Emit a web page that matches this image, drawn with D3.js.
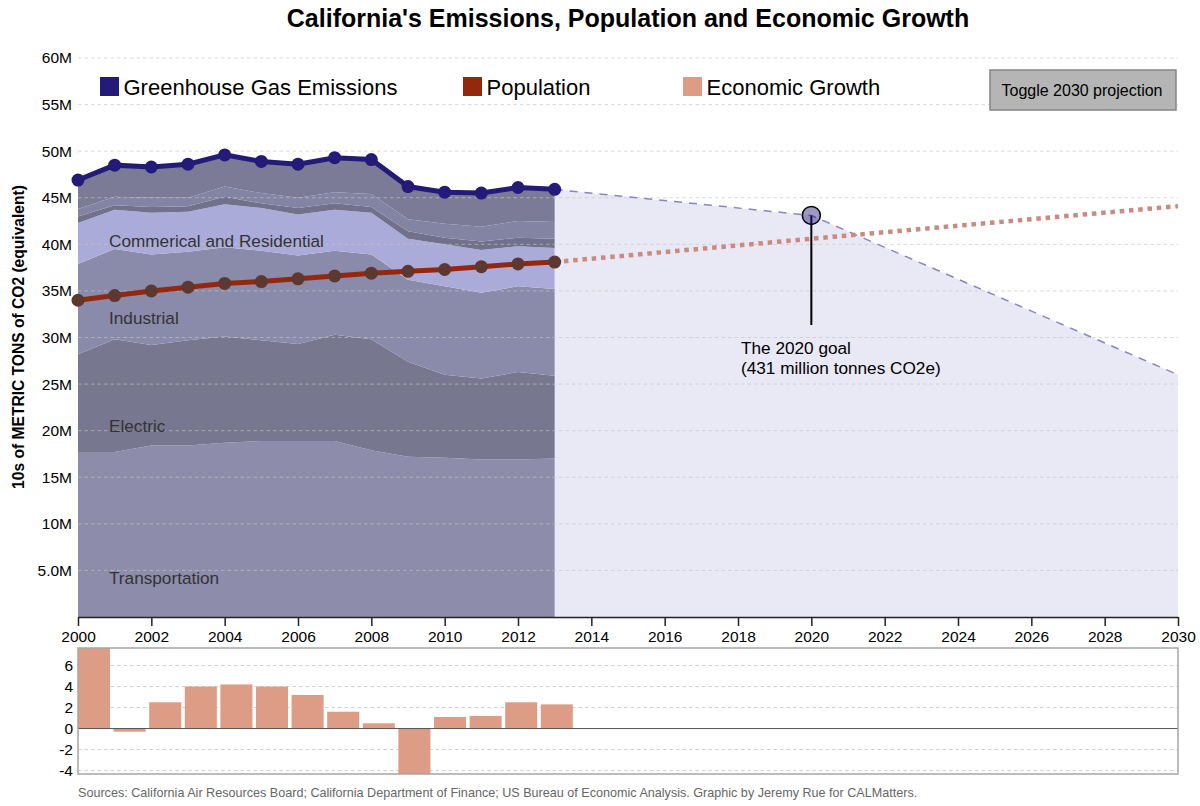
<!DOCTYPE html>
<html>
<head>
<meta charset="utf-8">
<title>California's Emissions, Population and Economic Growth</title>
<script src="https://cdn.jsdelivr.net/npm/d3@7"></script>
<style>
body { margin: 0; background: #fff; }
svg { display: block; }
text { font-family: "Liberation Sans", Arial, sans-serif; }
</style>
</head>
<body>
<svg id="chart"></svg>
<script>
var years = d3.range(2000, 2014);
var allYears = d3.range(2000, 2031);

// sector values (millions)
var transportation = [17.7, 17.7, 18.4, 18.4, 18.7, 18.9, 18.9, 18.9, 17.9, 17.2, 17.1, 16.9, 16.9, 17.0];
var electric = [10.5, 12.1, 10.8, 11.3, 11.4, 10.8, 10.4, 11.4, 11.9, 10.2, 8.9, 8.7, 9.4, 8.9];
var industrial = [9.7, 9.7, 9.7, 9.5, 9.6, 9.6, 9.5, 9.0, 9.1, 8.8, 9.5, 9.2, 9.2, 9.3];
var commercial = [4.4, 4.2, 4.5, 4.3, 4.6, 4.6, 4.4, 4.4, 4.5, 4.4, 4.5, 4.6, 4.3, 4.4];
var agriculture = [0.7, 0.5, 0.6, 0.6, 0.8, 0.5, 0.7, 0.7, 0.6, 0.8, 0.7, 0.9, 0.9, 1.0];
var recycling = [0.8, 0.9, 1.0, 0.9, 1.1, 1.1, 1.1, 1.2, 1.4, 1.3, 1.5, 1.6, 1.8, 1.8];
var other = [3.1, 3.4, 3.3, 3.6, 3.4, 3.4, 3.6, 3.7, 3.7, 3.5, 3.4, 3.6, 3.6, 3.5];

var emissions = [46.9, 48.5, 48.3, 48.6, 49.6, 48.9, 48.6, 49.3, 49.1, 46.2, 45.6, 45.5, 46.1, 45.9];
var population = [34.0, 34.5, 35.0, 35.4, 35.8, 36.0, 36.3, 36.6, 36.9, 37.1, 37.3, 37.6, 37.9, 38.1];
var growth = [8.0, -0.3, 2.5, 4.0, 4.2, 4.0, 3.2, 1.6, 0.5, -4.6, 1.1, 1.2, 2.5, 2.3];

var goalYears = [2013, 2020, 2030];
var goalValues = [45.9, 43.1, 26.0];
var popYears = [2013, 2020, 2030];
var popValues = [38.1, 40.6, 44.1];

var sectorNames = ["transportation", "electric", "industrial", "commercial", "agriculture", "recycling", "other"];
var sectorColors = ["#8d8dab", "#777790", "#8a8aaa", "#ababd9", "#71718b", "#8383a3", "#7b7b97"];
var sectorSeries = [transportation, electric, industrial, commercial, agriculture, recycling, other];

var sectorLabels = ["Transportation", "Electric", "Industrial", "Commerical and Residential"];
var labelValues = [3.5, 19.85, 31.4, 39.7];

var yTicks = d3.range(5, 65, 5);
var growthTicks = [-4, -2, 0, 2, 4, 6];
var legendNames = ["Greenhouse Gas Emissions", "Population", "Economic Growth"];
var legendColors = ["#231b77", "#93280f", "#dd9c85"];
var legendX = [100, 463, 683];

var width = 1200;
var height = 806;
var left = 78, right = 1178;

var svg = d3.select("#chart").attr("width", width).attr("height", height);

var x = d3.scaleLinear().domain([2000, 2030]).range([left, right]);
var y = d3.scaleLinear().domain([0, 60]).range([617, 58]);

svg.append("text")
  .attr("x", 628).attr("y", 27)
  .attr("text-anchor", "middle")
  .attr("font-size", 25).attr("font-weight", "bold")
  .text("California's Emissions, Population and Economic Growth");

// projection area under the goal line
var goalData = goalYears.map(function(d, i) { return { year: d, value: goalValues[i] }; });
var goalArea = d3.area()
  .x(function(d) { return x(d.year); })
  .y0(y(0))
  .y1(function(d) { return y(d.value); });
svg.append("path").datum(goalData).attr("d", goalArea).attr("fill", "#e9e8f5");

// stacked sectors
var table = years.map(function(year, i) {
  var row = { year: year };
  sectorNames.forEach(function(name, j) { row[name] = sectorSeries[j][i]; });
  return row;
});
var stack = d3.stack().keys(sectorNames);
var bandArea = d3.area()
  .x(function(d) { return x(d.data.year); })
  .y0(function(d) { return y(d[0]); })
  .y1(function(d) { return y(d[1]); });
svg.selectAll(".band")
  .data(stack(table))
  .enter().append("path")
  .attr("class", "band")
  .attr("d", bandArea)
  .attr("fill", function(d, i) { return sectorColors[i]; });

// grid sits on top of the areas
svg.selectAll(".grid")
  .data(yTicks)
  .enter().append("line")
  .attr("class", "grid")
  .attr("x1", left).attr("x2", right)
  .attr("y1", function(d) { return y(d); })
  .attr("y2", function(d) { return y(d); })
  .attr("stroke", "#c4c4c4").attr("stroke-opacity", 0.65)
  .attr("stroke-dasharray", "3.5,3");

// sector labels
svg.selectAll(".sector-label")
  .data(sectorLabels)
  .enter().append("text")
  .attr("class", "sector-label")
  .attr("x", 109)
  .attr("y", function(d, i) { return y(labelValues[i]); })
  .attr("font-size", 17.2).attr("fill", "#333")
  .text(function(d) { return d; });

// y axis labels only
var yAxis = d3.axisLeft(y).tickValues(yTicks).tickSize(0).tickPadding(6)
  .tickFormat(function(d) { return d3.format(".2s")(d * 1e6); });
var yG = svg.append("g").attr("transform", "translate(" + left + ",0)").call(yAxis);
yG.select(".domain").remove();
yG.selectAll("text").attr("font-size", 15.5).attr("font-family", null).attr("fill", "#000");

svg.append("text")
  .attr("transform", "translate(24,337) rotate(-90)")
  .attr("text-anchor", "middle")
  .attr("font-size", 15.6).attr("font-weight", "bold")
  .text("10s of METRIC TONS of CO2 (equivalent)");

// x axis
var xAxis = d3.axisBottom(x).tickValues(d3.range(2000, 2031, 2)).tickSize(9).tickSizeOuter(0).tickPadding(5)
  .tickFormat(d3.format("d"));
var xG = svg.append("g").attr("transform", "translate(0,617)").call(xAxis);
xG.selectAll("path, line").attr("stroke", "#222").attr("stroke-width", 1.5);
xG.selectAll("text").attr("font-size", 15.5).attr("font-family", null).attr("fill", "#000");

// projections
var line = d3.line()
  .x(function(d) { return x(d.year); })
  .y(function(d) { return y(d.value); });
svg.append("path").datum(goalData).attr("d", line)
  .attr("fill", "none").attr("stroke", "#8a86bb").attr("stroke-width", 1.5)
  .attr("stroke-dasharray", "8,7");
var popProjection = popYears.map(function(d, i) { return { year: d, value: popValues[i] }; });
svg.append("path").datum(popProjection).attr("d", line)
  .attr("fill", "none").attr("stroke", "#c98b7e").attr("stroke-width", 4.5)
  .attr("stroke-dasharray", "4.5,4.8");

// emissions line
var emissionsData = years.map(function(d, i) { return { year: d, value: emissions[i] }; });
svg.append("path").datum(emissionsData).attr("d", line)
  .attr("fill", "none").attr("stroke", "#231b77").attr("stroke-width", 5);
svg.selectAll(".em-dot")
  .data(emissionsData)
  .enter().append("circle")
  .attr("class", "em-dot")
  .attr("cx", function(d) { return x(d.year); })
  .attr("cy", function(d) { return y(d.value); })
  .attr("r", 6.5).attr("fill", "#231b77");

// population line
var populationData = years.map(function(d, i) { return { year: d, value: population[i] }; });
svg.append("path").datum(populationData).attr("d", line)
  .attr("fill", "none").attr("stroke", "#93280f").attr("stroke-width", 5);
svg.selectAll(".pop-dot")
  .data(populationData)
  .enter().append("circle")
  .attr("class", "pop-dot")
  .attr("cx", function(d) { return x(d.year); })
  .attr("cy", function(d) { return y(d.value); })
  .attr("r", 6.5).attr("fill", "#5d3830");

// 2020 goal marker
svg.append("line")
  .attr("x1", x(2020)).attr("x2", x(2020))
  .attr("y1", y(43.1)).attr("y2", 325)
  .attr("stroke", "#000").attr("stroke-width", 2);
svg.append("circle")
  .attr("cx", x(2020)).attr("cy", y(43.1))
  .attr("r", 9)
  .attr("fill", "#231b77").attr("fill-opacity", 0.45)
  .attr("stroke", "#000").attr("stroke-width", 1.5);
svg.append("text").attr("x", 741).attr("y", 354).attr("font-size", 17.2).text("The 2020 goal");
svg.append("text").attr("x", 741).attr("y", 374).attr("font-size", 17.2).text("(431 million tonnes CO2e)");

// legend
legendNames.forEach(function(name, i) {
  svg.append("rect")
    .attr("x", legendX[i]).attr("y", 77)
    .attr("width", 19).attr("height", 19)
    .attr("fill", legendColors[i]);
  svg.append("text")
    .attr("x", legendX[i] + 23.5).attr("y", 95)
    .attr("font-size", 22)
    .text(name);
});

// toggle button
svg.append("rect")
  .attr("x", 990).attr("y", 70)
  .attr("width", 186).attr("height", 40)
  .attr("fill", "#b5b5b5").attr("stroke", "#858585").attr("stroke-width", 1.5);
svg.append("text")
  .attr("x", 1082).attr("y", 96)
  .attr("text-anchor", "middle")
  .attr("font-size", 16)
  .text("Toggle 2030 projection");

// economic growth chart
var barTop = 648, barBottom = 774;
var xBar = d3.scaleBand().domain(allYears).range([left, right]).paddingInner(0.1);
var yBar = d3.scaleLinear().domain([-4.33, 7.67]).range([barBottom, barTop]);

svg.append("clipPath").attr("id", "bar-clip")
  .append("rect")
  .attr("x", left).attr("y", barTop)
  .attr("width", right - left).attr("height", barBottom - barTop);

svg.selectAll(".bar-grid")
  .data(growthTicks.filter(function(d) { return d !== 0; }))
  .enter().append("line")
  .attr("class", "bar-grid")
  .attr("x1", left).attr("x2", right)
  .attr("y1", function(d) { return yBar(d); })
  .attr("y2", function(d) { return yBar(d); })
  .attr("stroke", "#c4c4c4").attr("stroke-opacity", 0.8)
  .attr("stroke-dasharray", "3.5,3");

svg.append("g").attr("clip-path", "url(#bar-clip)")
  .selectAll("rect")
  .data(growth)
  .enter().append("rect")
  .attr("x", function(d, i) { return xBar(years[i]); })
  .attr("width", xBar.bandwidth())
  .attr("y", function(d) { return yBar(Math.max(d, 0)); })
  .attr("height", function(d) { return Math.abs(yBar(d) - yBar(0)); })
  .attr("fill", "#dd9c85");

svg.append("line")
  .attr("x1", left).attr("x2", right)
  .attr("y1", yBar(0)).attr("y2", yBar(0))
  .attr("stroke", "#555").attr("stroke-width", 1);

svg.append("rect")
  .attr("x", left).attr("y", barTop)
  .attr("width", right - left).attr("height", barBottom - barTop)
  .attr("fill", "none").attr("stroke", "#a5a5a5").attr("stroke-width", 1.5);

var barAxis = d3.axisLeft(yBar).tickValues(growthTicks).tickSize(0).tickPadding(5)
  .tickFormat(d3.format("d"));
var barG = svg.append("g").attr("transform", "translate(" + left + ",0)").call(barAxis);
barG.select(".domain").remove();
barG.selectAll("text").attr("font-size", 15.5).attr("font-family", null).attr("fill", "#000")
  .text(function(d) { return d; });

svg.append("text")
  .attr("x", left).attr("y", 797)
  .attr("font-size", 12.6).attr("fill", "#666")
  .text("Sources: California Air Resources Board; California Department of Finance; US Bureau of Economic Analysis. Graphic by Jeremy Rue for CALMatters.");
</script>
</body>
</html>
